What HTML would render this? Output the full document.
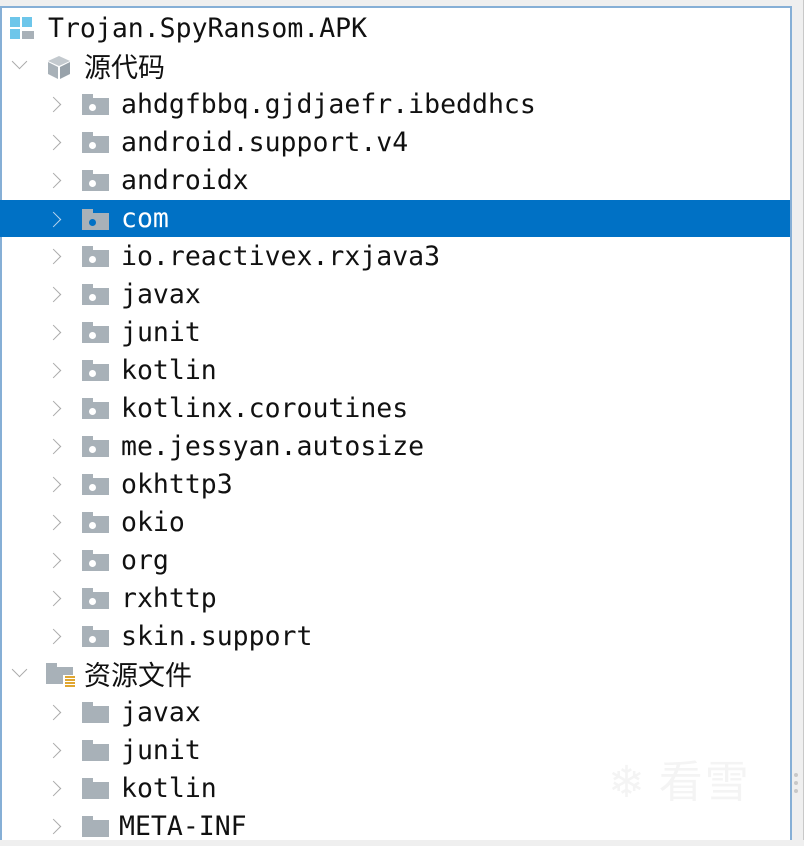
<!DOCTYPE html>
<html><head><meta charset="utf-8"><style>
html,body{margin:0;padding:0;}
body{width:804px;height:840px;background:#efefef;position:relative;overflow:hidden;font-family:"DejaVu Sans Mono","Liberation Mono","Noto Sans CJK SC",monospace;}
.panel{position:absolute;left:0;top:6px;width:792px;height:834px;background:#fff;border-top:2px solid #86afd6;border-left:2px solid #86afd6;border-right:2px solid #86afd6;box-sizing:border-box;}
.edge{position:absolute;right:0;top:0;width:1px;height:840px;background:#c8c8c8;}
.row{position:absolute;left:0;width:790px;height:38px;}
.sel{background:#0071c5;}
.t{position:absolute;top:1px;line-height:38px;font-size:26.5px;color:#111;white-space:pre;}
.sel .t{color:#fff;}
.cjk{font-family:"Noto Sans CJK SC","WenQuanYi Zen Hei",sans-serif;font-size:27px;top:0;}
.chev{position:absolute;top:14px;width:10px;height:10px;border-right:1.5px solid #aaa;border-bottom:1.5px solid #aaa;}
.cr{transform:rotate(-45deg);}
.cd{transform:rotate(45deg);top:9px;}
.sel .chev{border-color:#b9d4ee;}
.fold{position:absolute;top:9px;width:27px;height:21px;}
.fold:before{content:"";position:absolute;left:0;top:0;width:11px;height:5px;background:#a8b1b8;}
.fold:after{content:"";position:absolute;left:0;top:4px;width:27px;height:17px;background:#a8b1b8;}
.dot{position:absolute;left:7px;top:10px;width:7px;height:7px;border-radius:50%;background:#fff;z-index:2;}
.sel .dot{background:#0071c5;}
</style></head><body>
<div class="panel"></div>
<div class="edge"></div>

<div class="row" style="top:9px">
  <div style="position:absolute;left:10px;top:8px;width:10px;height:10px;background:#6dc6ea"></div>
  <div style="position:absolute;left:22px;top:8px;width:10px;height:10px;background:#6dc6ea"></div>
  <div style="position:absolute;left:10px;top:20px;width:10px;height:10px;background:#6dc6ea"></div>
  <div style="position:absolute;left:22px;top:22px;width:12px;height:8px;background:#a8b1b8"></div>
  <div class="t" style="left:48px">Trojan.SpyRansom.APK</div>
</div>

<div class="row" style="top:47px">
  <div class="chev cd" style="left:14px"></div>
  <svg style="position:absolute;left:46px;top:7px" width="26" height="26" viewBox="0 0 26 26">
    <polygon points="13,2 24,7 13,12 2,7" fill="#c3c9ce"/>
    <polygon points="2,8 12,13 12,25 2,20" fill="#a8b1b8"/>
    <polygon points="14,13 24,8 24,20 14,25" fill="#98a2aa"/>
  </svg>
  <div class="t cjk" style="left:84px">源代码</div>
</div>

<div class="row" style="top:85px"><div class="chev cr" style="left:48px"></div><div class="fold" style="left:82px"><div class="dot"></div></div><div class="t" style="left:121px">ahdgfbbq.gjdjaefr.ibeddhcs</div></div>
<div class="row" style="top:123px"><div class="chev cr" style="left:48px"></div><div class="fold" style="left:82px"><div class="dot"></div></div><div class="t" style="left:121px">android.support.v4</div></div>
<div class="row" style="top:161px"><div class="chev cr" style="left:48px"></div><div class="fold" style="left:82px"><div class="dot"></div></div><div class="t" style="left:121px">androidx</div></div>
<div class="row sel" style="top:200px;height:37px"><div class="chev cr" style="left:48px"></div><div class="fold" style="left:82px"><div class="dot"></div></div><div class="t" style="left:121px;top:0">com</div></div>
<div class="row" style="top:237px"><div class="chev cr" style="left:48px"></div><div class="fold" style="left:82px"><div class="dot"></div></div><div class="t" style="left:121px">io.reactivex.rxjava3</div></div>
<div class="row" style="top:275px"><div class="chev cr" style="left:48px"></div><div class="fold" style="left:82px"><div class="dot"></div></div><div class="t" style="left:121px">javax</div></div>
<div class="row" style="top:313px"><div class="chev cr" style="left:48px"></div><div class="fold" style="left:82px"><div class="dot"></div></div><div class="t" style="left:121px">junit</div></div>
<div class="row" style="top:351px"><div class="chev cr" style="left:48px"></div><div class="fold" style="left:82px"><div class="dot"></div></div><div class="t" style="left:121px">kotlin</div></div>
<div class="row" style="top:389px"><div class="chev cr" style="left:48px"></div><div class="fold" style="left:82px"><div class="dot"></div></div><div class="t" style="left:121px">kotlinx.coroutines</div></div>
<div class="row" style="top:427px"><div class="chev cr" style="left:48px"></div><div class="fold" style="left:82px"><div class="dot"></div></div><div class="t" style="left:121px">me.jessyan.autosize</div></div>
<div class="row" style="top:465px"><div class="chev cr" style="left:48px"></div><div class="fold" style="left:82px"><div class="dot"></div></div><div class="t" style="left:121px">okhttp3</div></div>
<div class="row" style="top:503px"><div class="chev cr" style="left:48px"></div><div class="fold" style="left:82px"><div class="dot"></div></div><div class="t" style="left:121px">okio</div></div>
<div class="row" style="top:541px"><div class="chev cr" style="left:48px"></div><div class="fold" style="left:82px"><div class="dot"></div></div><div class="t" style="left:121px">org</div></div>
<div class="row" style="top:579px"><div class="chev cr" style="left:48px"></div><div class="fold" style="left:82px"><div class="dot"></div></div><div class="t" style="left:121px">rxhttp</div></div>
<div class="row" style="top:617px"><div class="chev cr" style="left:48px"></div><div class="fold" style="left:82px"><div class="dot"></div></div><div class="t" style="left:121px">skin.support</div></div>

<div class="row" style="top:655px">
  <div class="chev cd" style="left:14px"></div>
  <div class="fold" style="left:46px;top:8px"></div>
  <div style="position:absolute;left:63px;top:20px;width:13px;height:14px;background:#fff"></div>
  <div style="position:absolute;left:65px;top:21px;width:10px;height:12px;background:repeating-linear-gradient(#e0a630 0 2px,#fff 2px 3px)"></div>
  <div class="t cjk" style="left:84px">资源文件</div>
</div>
<div class="row" style="top:693px"><div class="chev cr" style="left:48px"></div><div class="fold" style="left:82px"></div><div class="t" style="left:121px">javax</div></div>
<div class="row" style="top:731px"><div class="chev cr" style="left:48px"></div><div class="fold" style="left:82px"></div><div class="t" style="left:121px">junit</div></div>
<div class="row" style="top:769px"><div class="chev cr" style="left:48px"></div><div class="fold" style="left:82px"></div><div class="t" style="left:121px">kotlin</div></div>
<div class="row" style="top:807px"><div class="chev cr" style="left:48px"></div><div class="fold" style="left:82px"></div><div class="t" style="left:119px">META-INF</div></div>

<div style="position:absolute;left:608px;top:746px;font-family:'Noto Sans CJK SC',sans-serif;font-size:44px;color:#f4f4f4;letter-spacing:2px">❄ 看雪</div>
<div style="position:absolute;left:794px;top:773px;width:4px;height:4px;border-radius:50%;background:#c8c8c8"></div>
<div style="position:absolute;left:794px;top:781px;width:4px;height:4px;border-radius:50%;background:#c8c8c8"></div>
<div style="position:absolute;left:794px;top:789px;width:4px;height:4px;border-radius:50%;background:#c8c8c8"></div>
</body></html>
